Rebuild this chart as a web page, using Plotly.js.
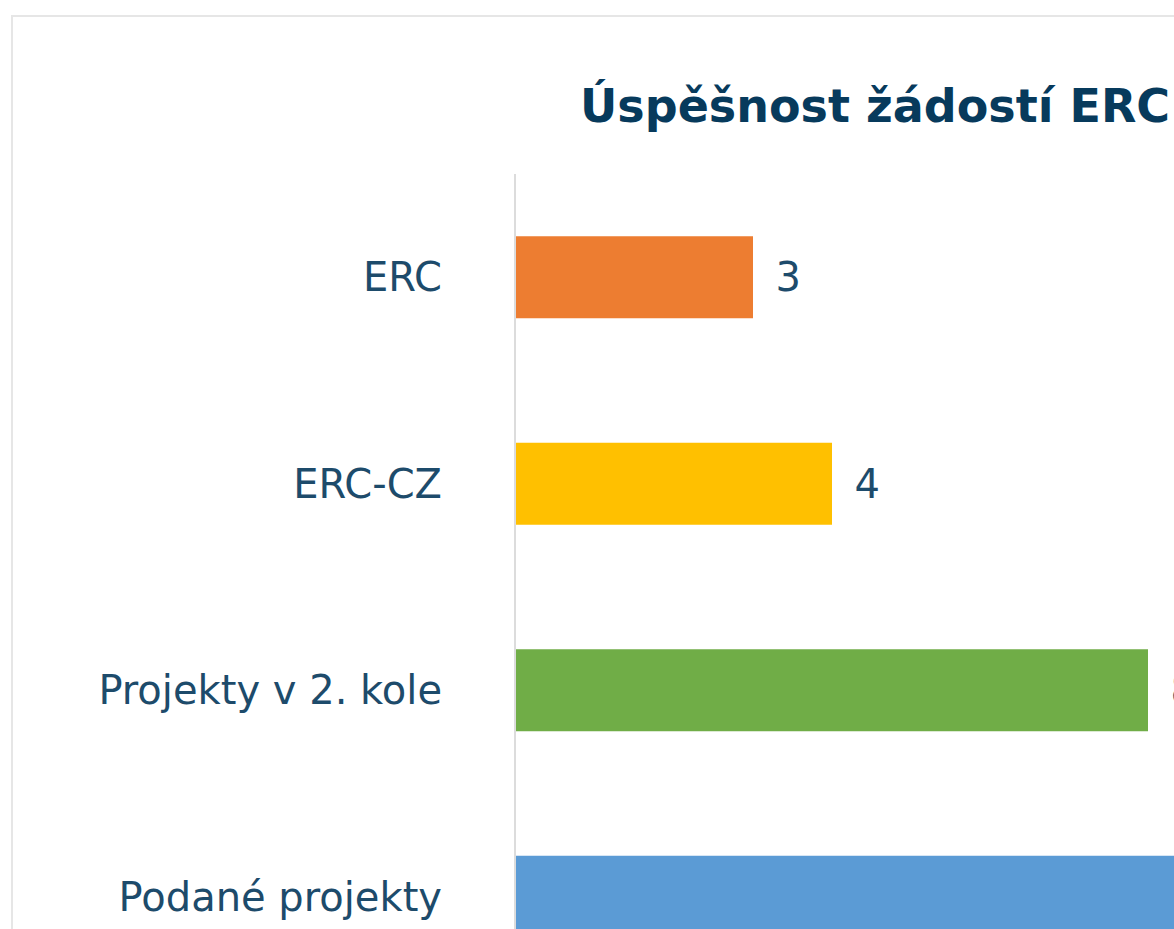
<!DOCTYPE html>
<html>
<head>
<meta charset="utf-8">
<script src="https://cdn.plot.ly/plotly-3.0.1.min.js"></script>
<style>
  html, body { margin: 0; padding: 0; overflow: hidden; background: #ffffff; width: 1174px; height: 929px; }
  #frame { position: absolute; left: 11px; top: 15px; width: 2600px; height: 1400px; border: 2px solid #e6e6e6; box-sizing: border-box; }
  #chart { position: absolute; left: 0; top: 0; }
</style>
</head>
<body>
<div id="frame"></div>
<div id="chart"></div>
<script>
const chartTitle = "Úspěšnost žádostí ERC";
const categories = ["ERC", "ERC-CZ", "Projekty v 2. kole", "Podané projekty"];
const values = [3, 4, 8, 20];
const barColors = ["#ED7D31", "#FFC000", "#70AD47", "#5B9BD5"];

const W = 2400, H = 1150;
const textColor = "#1d4b6b";
const fontFam = "'DejaVu Sans', sans-serif";

const trace = {
  type: "bar",
  orientation: "h",
  y: categories,
  x: values,
  marker: { color: barColors },
  texttemplate: "\u00a0\u2006%{x}",
  textposition: "outside",
  cliponaxis: false,
  textfont: { family: fontFam, size: 40, color: textColor },
  hoverinfo: "skip"
};

const layout = {
  width: W,
  height: H,
  margin: { l: 516, r: 146, t: 174, b: 150 },
  paper_bgcolor: "rgba(0,0,0,0)",
  plot_bgcolor: "rgba(0,0,0,0)",
  showlegend: false,
  bargap: 0.603,
  title: {
    text: "<b>" + chartTitle + "</b>",
    font: { family: fontFam, size: 46, color: "#073a5c" },
    xref: "container", yref: "container",
    x: 580 / W, xanchor: "left",
    y: 1 - 106 / H, yanchor: "middle"
  },
  xaxis: {
    range: [0, 22],
    visible: false,
    showgrid: false,
    zeroline: false,
    fixedrange: true
  },
  yaxis: {
    type: "category",
    categoryorder: "array",
    categoryarray: categories,
    autorange: "reversed",
    showline: true,
    linecolor: "#dcdcdc",
    linewidth: 2,
    showgrid: false,
    zeroline: false,
    ticks: "",
    ticklabelstandoff: 64,
    tickfont: { family: fontFam, size: 40, color: textColor },
    fixedrange: true
  }
};

Plotly.newPlot("chart", [trace], layout, { displayModeBar: false, staticPlot: true });
</script>
</body>
</html>
